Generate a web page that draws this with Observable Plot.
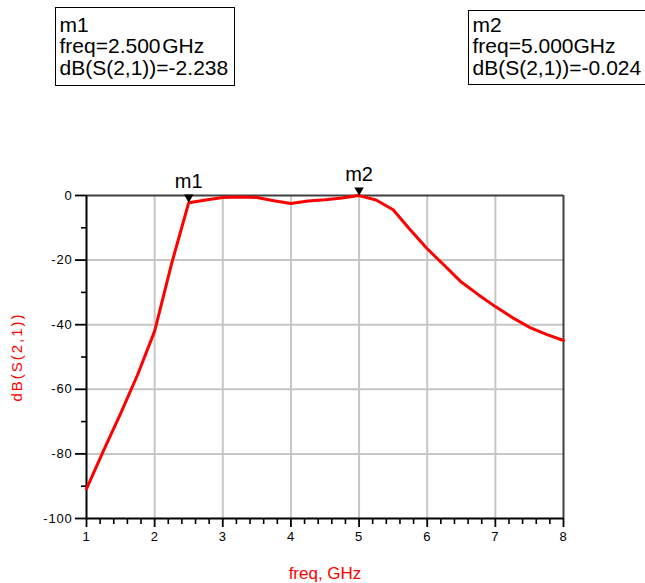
<!DOCTYPE html>
<html><head><meta charset="utf-8">
<script src="https://cdn.jsdelivr.net/npm/d3@7"></script>
<script src="https://cdn.jsdelivr.net/npm/@observablehq/plot@0.6"></script>
<style>
body{margin:0;background:#fff;font-family:"Liberation Sans",Arial,sans-serif;}
#wrap{position:relative;width:645px;height:583px;overflow:hidden;background:#fff;}
#wrap svg{position:absolute;left:0;top:0;}
.box{position:absolute;border:1.5px solid #000;background:#fff;font-size:21px;line-height:21.5px;box-sizing:border-box;color:#000;white-space:nowrap;font-family:"Liberation Sans",Arial,sans-serif;}
</style></head><body><div id="wrap"></div>
<script>
// S-parameter trace
const freq = [1, 1.25, 1.5, 1.75, 2, 2.25, 2.5, 2.75, 3, 3.25, 3.5, 3.75, 4, 4.25, 4.5, 4.75, 5, 5.25, 5.5, 5.75, 6, 6.25, 6.5, 6.75, 7, 7.25, 7.5, 7.75, 8];
const dbS21 = [-90.8, -79, -67.5, -55.5, -42, -21, -2.238, -1.4, -0.6, -0.5, -0.6, -1.6, -2.5, -1.7, -1.3, -0.8, -0.024, -1.4, -4.4, -10.6, -16.5, -21.6, -26.8, -30.7, -34.4, -37.8, -40.8, -43, -44.9];
// markers
const markerNames = ["m1", "m2"];
const markerFreq = [2.5, 5.0];
const markerValue = [-2.238, -0.024];
const markerFreqText = ["2.500\u200aGHz", "5.000GHz"];
const markerValueText = ["-2.238", "-0.024"];
// axes
const xMajorTicks = [1, 2, 3, 4, 5, 6, 7, 8];
const xGridTicks = [2, 3, 4, 5, 6, 7];
const yMajorTicks = [0, -20, -40, -60, -80, -100];
const yGridTicks = [-20, -40, -60, -80];
const yMinorTicks = [-10, -30, -50, -70, -90];
const xMinorTicks = d3.range(1, 8.0001, 0.2).map(v => +v.toFixed(1)).filter(v => Math.abs(v - Math.round(v)) > 1e-6);
const xLabel = "freq, GHz";
const yLabel = "dB(S(2,1))";

const trace = freq.map((f, i) => ({f, v: dbS21[i]}));
const markers = markerNames.map((n, i) => ({n, f: markerFreq[i], v: markerValue[i]}));

const chart = Plot.plot({
  width: 645, height: 583,
  marginLeft: 86, marginRight: 82, marginTop: 195, marginBottom: 65,
  style: {fontFamily: '"Liberation Sans", Arial, sans-serif', background: "#fff", color: "#000"},
  x: {domain: [1, 8]},
  y: {domain: [-100, 0]},
  marks: [
    Plot.gridX(xGridTicks, {stroke: "#c6c6c6", strokeOpacity: 1, strokeWidth: 2}),
    Plot.gridY(yGridTicks, {stroke: "#c6c6c6", strokeOpacity: 1, strokeWidth: 2}),
    Plot.ruleY([0], {stroke: "#404040", strokeWidth: 2}),
    Plot.ruleX([8], {stroke: "#404040", strokeWidth: 2}),
    Plot.axisX(xMinorTicks, {tickSize: 6, tickFormat: () => "", strokeWidth: 1.6, label: null}),
    Plot.axisX(xMajorTicks, {tickSize: 9, tickPadding: 4, fontSize: 13, strokeWidth: 1.8, label: null, tickFormat: d => String(d)}),
    Plot.axisY(yMinorTicks, {tickSize: 5, tickFormat: () => "", strokeWidth: 1.6, label: null}),
    Plot.axisY(yMajorTicks, {tickSize: 11, tickPadding: 3, fontSize: 13, strokeWidth: 1.8, label: null, tickFormat: d => String(d)}),
    Plot.ruleY([-100], {stroke: "#000", strokeWidth: 2}),
    Plot.ruleX([1], {stroke: "#000", strokeWidth: 2}),
    Plot.line(trace, {x: "f", y: "v", stroke: "#ff0000", strokeWidth: 3, strokeLinejoin: "miter"}),
    Plot.dot(markers, {x: "f", y: "v", symbol: "triangle", r: 3.5, rotate: 180, fill: "#000", stroke: "none", dy: -5.4}),
    Plot.text(markers, {x: "f", y: "v", text: "n", fontSize: 20, dy: -21, lineAnchor: "middle", fill: "#000"}),
    Plot.text([xLabel], {frameAnchor: "bottom", dy: 55, fontSize: 17, fill: "#ff0000", lineAnchor: "middle", textAnchor: "middle"}),
    Plot.text([yLabel], {frameAnchor: "left", dx: -69, rotate: -90, fontSize: 15, fill: "#ff0000", lineAnchor: "middle", textAnchor: "middle"})
  ]
});
d3.select(chart).selectAll("text").filter(function(){ return this.textContent === yLabel; }).style("letter-spacing", "2px");
d3.select(chart).selectAll("g[aria-label='x-axis tick label'] text, g[aria-label='y-axis tick label'] text").style("letter-spacing", "0.8px");
const wrap = document.getElementById("wrap");
wrap.appendChild(chart);

const boxes = [
  {left: 55, top: 7, width: 180, height: 79, pt: 5.5},
  {left: 468, top: 10, width: 200, height: 75, pt: 2.5}
];
boxes.forEach((b, i) => {
  const d = document.createElement("div");
  d.className = "box";
  Object.assign(d.style, {left: b.left + "px", top: b.top + "px", width: b.width + "px", height: b.height + "px", paddingTop: b.pt + "px", paddingLeft: "3.5px"});
  [markerNames[i], "freq=" + markerFreqText[i], "dB(S(2,1))=" + markerValueText[i]].forEach(t => {
    const l = document.createElement("div");
    l.textContent = t;
    d.appendChild(l);
  });
  wrap.appendChild(d);
});
</script></body></html>
